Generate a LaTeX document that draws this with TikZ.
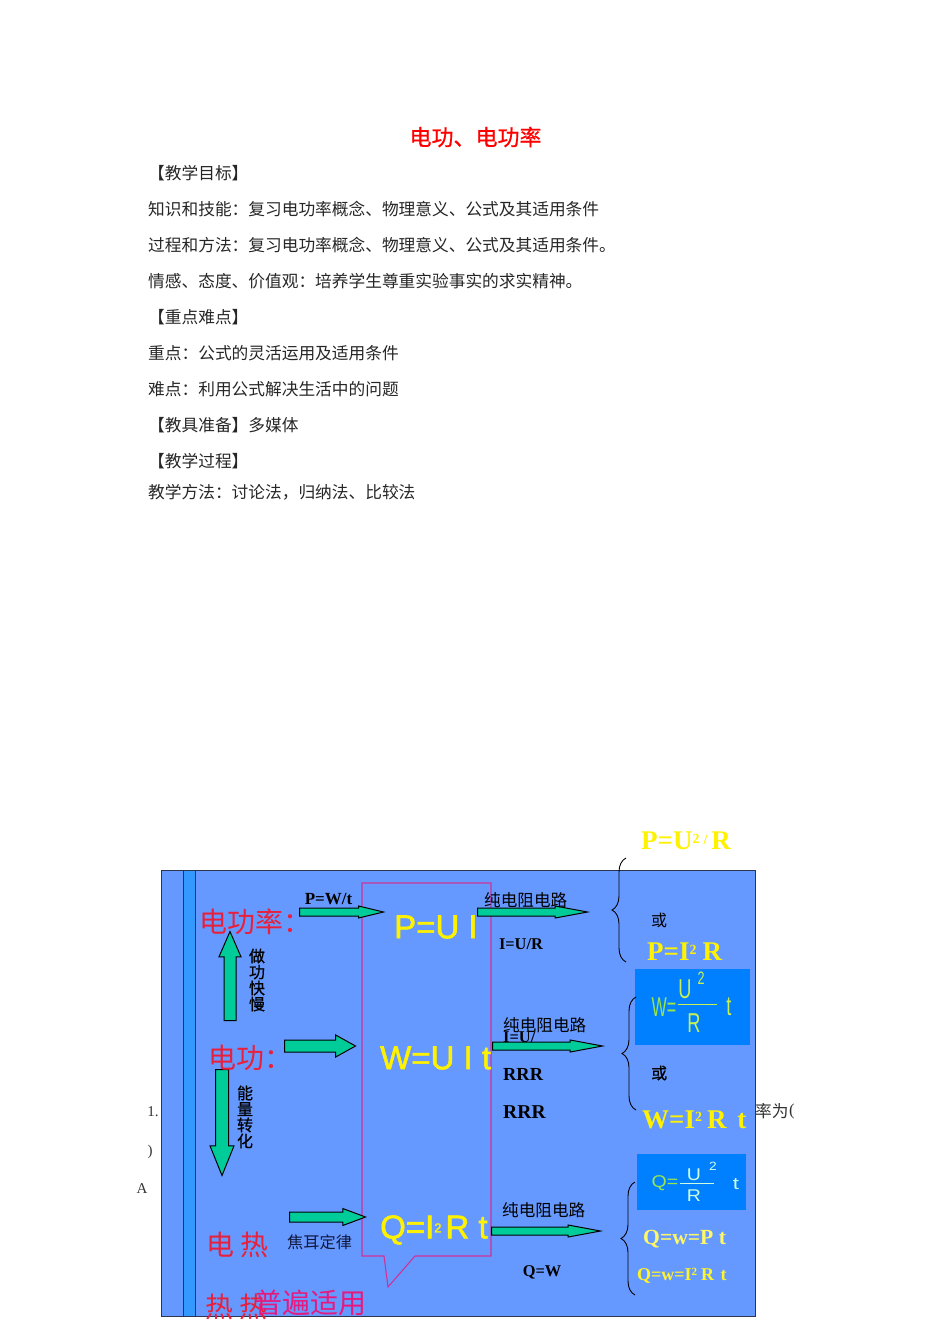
\documentclass[tikz,border=0pt]{standalone}
\usepackage{fontspec}
\setmainfont{Liberation Serif}
\newfontfamily\zhfont{Noto Sans CJK SC}
\newfontfamily\zhmedium[FakeBold=0.7]{Noto Sans CJK SC}
\newfontfamily\arialfont{Liberation Sans}
\newfontfamily\arialheavy[FakeBold=1.6]{Liberation Sans}
\usetikzlibrary{ shapes.arrows, % For the block arrows
                 decorations.pathreplacing, % For the braces
               }
\definecolor{slideblue}{HTML}{6699FF}
\definecolor{stripeblue}{HTML}{3399FF}
\definecolor{boxblue}{HTML}{0080FF}
\definecolor{flowgreen}{HTML}{00CC99}
\definecolor{slidered}{HTML}{E8203C}
\definecolor{slidepink}{HTML}{E6197F}
\definecolor{calloutpink}{HTML}{CC3399}
\definecolor{edgedark}{HTML}{2B3550}
\definecolor{navy}{HTML}{101840}
\definecolor{boxgreen}{HTML}{99E64D}
\definecolor{boxlime}{HTML}{C8F050}
\definecolor{boxpale}{HTML}{CCFFE0}
\newcommand{\fsz}[1]{\fontsize{#1}{#1}\selectfont}
\newcommand{\smalltwo}[2]{{\fsz{#1}\raisebox{#2pt}{2}}}
\tikzstyle{bodyline} = [anchor=west, inner sep=0, font=\zhfont\fsz{16.7}, text=black!85]
\tikzstyle{heading} = [inner sep=0, font=\zhmedium\fsz{22}, text=red]
\tikzstyle{bigred} = [anchor=west, inner sep=0, font=\zhfont\fsz{28}, text=slidered]
\tikzstyle{vertlabel} = [inner sep=0, align=center, font=\zhmedium\fsz{16}, text=black]
\tikzstyle{circuit} = [anchor=west, inner sep=0, font=\zhfont\fsz{16.6}, text=black]
\tikzstyle{law} = [inner sep=0, font=\bfseries\fsz{17}, text=black]
\tikzstyle{bigformula} = [anchor=west, inner sep=0, font=\arialheavy\fsz{33}, text=yellow]
\tikzstyle{result} = [anchor=west, inner sep=0, font=\bfseries\fsz{27}, text=yellow]
\tikzstyle{thinmath} = [inner sep=0, font=\arialfont\fsz{26}]
\tikzstyle{stray} = [inner sep=0, font=\fsz{15}, text=black!80]
\tikzstyle{curly} = [decorate, decoration={brace, amplitude=14}, line width=0.9, black]
\tikzset{flow/.style n args={4}{single arrow, draw=black, fill=flowgreen, line width=1,
    anchor=tail, inner sep={#2*0.5}, minimum height=#1, minimum width=0,
    single arrow head extend={#3}, single arrow tip angle=#4, single arrow head indent=0}}

\begin{document}
\begin{tikzpicture}[x=1pt, y=-1pt]
  \useasboundingbox (0,0) rectangle (950,1344);

  % the text of the page
  \node (title) [heading] at (475.5, 137) {电功、电功率};
  \node (goals) [bodyline] at (148, 173) {【教学目标】};
  \node (skills) [bodyline] at (148, 209) {知识和技能：复习电功率概念、物理意义、公式及其适用条件};
  \node (method) [bodyline] at (148, 245) {过程和方法：复习电功率概念、物理意义、公式及其适用条件。};
  \node (values) [bodyline] at (148, 281) {情感、态度、价值观：培养学生尊重实验事实的求实精神。};
  \node (keys) [bodyline] at (148, 317) {【重点难点】};
  \node (key) [bodyline] at (148, 353) {重点：公式的灵活运用及适用条件};
  \node (hard) [bodyline] at (148, 389) {难点：利用公式解决生活中的问题};
  \node (tools) [bodyline] at (148, 425) {【教具准备】多媒体};
  \node (steps) [bodyline] at (148, 461) {【教学过程】};
  \node (ways) [bodyline] at (148, 492) {教学方法：讨论法，归纳法、比较法};

  % the slide
  \filldraw[fill=slideblue, draw=edgedark, line width=1] (161, 870) rectangle (755, 1316);
  \filldraw[fill=stripeblue, draw=edgedark, line width=1] (183, 870) rectangle (195, 1316);
  \draw[calloutpink, line width=1.1] (362, 883) -- (491, 883) -- (491, 1256) -- (415, 1256)
    -- (388, 1287) -- (384, 1256) -- (362, 1256) -- cycle;
  \fill[boxblue] (635, 969) rectangle (750, 1045);
  \fill[boxblue] (637, 1154) rectangle (746, 1210);

  % the formulas in the callout
  \node (pui) [bigformula] at (394, 927) {P=U I};
  \node (wuit) [bigformula] at (380, 1058) {W=U I t};
  \node (qirt) [bigformula] at (380, 1230) {Q=I\smalltwo{13}{6}\hspace{4pt}R t};

  % the block arrows
  \node (flowp) [flow={84}{7}{2}{27}] at (299, 912) {};
  \node (flowup) [flow={89}{11}{5}{47}, shape border rotate=90] at (230, 1021) {};
  \node (floww) [flow={71}{11}{5}{58}] at (284, 1046) {};
  \node (flowdown) [flow={106}{12}{5.5}{44}, shape border rotate=270] at (222, 1069) {};
  \node (flowq) [flow={76}{9}{3.5}{41}] at (289, 1217) {};
  \node (flowpr) [flow={110}{7}{2}{21}] at (477, 912) {};
  \node (flowwr) [flow={110}{7}{2}{21}] at (492, 1046) {};
  \node (flowqr) [flow={109}{7}{2}{21}] at (491, 1231) {};

  % the braces
  \coordinate (braceptop) at (626, 858);
  \coordinate (bracepend) at (626, 962);
  \coordinate (bracewtop) at (636, 997);
  \coordinate (bracewend) at (636, 1110);
  \coordinate (braceqtop) at (635, 1182);
  \coordinate (braceqend) at (635, 1295);
  \draw[curly] (bracepend) -- (braceptop);
  \draw[curly] (bracewend) -- (bracewtop);
  \draw[curly] (braceqend) -- (braceqtop);

  % the left column
  \node (power) [bigred] at (199, 922) {电功率：};
  \node (work) [bigred] at (208, 1058) {电功：};
  \node (heat) [bigred] at (206, 1245) {电 热};
  \node (heattwo) [bigred] at (205, 1307) {热 热};
  \node (general) [bigred, text=slidepink] at (254, 1303) {普遍适用};
  \node (fast) [vertlabel] at (257, 980) {做\\功\\快\\慢};
  \node (energy) [vertlabel] at (245, 1117) {能\\量\\转\\化};
  \node (pwt) [law] at (328.5, 899) {P=W/t};
  \node (joule) [circuit, text=navy, font=\zhfont\fsz{16.2}] at (287, 1242) {焦耳定律};

  % the middle column
  \node (purep) [circuit] at (484, 900) {纯电阻电路};
  \node (purew) [circuit] at (503, 1025) {纯电阻电路};
  \node (pureq) [circuit] at (502, 1210) {纯电阻电路};
  \node (iur) [law, font=\bfseries\fsz{16.4}] at (521, 944) {I=U/R};
  \node (iu) [law, font=\bfseries\fsz{16.4}, anchor=west] at (503, 1037) {I=U/};
  \node (rrrone) [law, font=\bfseries\fsz{18.4}, anchor=west] at (503, 1074) {RRR};
  \node (rrrtwo) [law, font=\bfseries\fsz{19.6}, anchor=west] at (503, 1112) {RRR};
  \node (qw) [law, font=\bfseries\fsz{16.4}] at (542, 1272) {Q=W};

  % the right column
  \node (pur) [result] at (641, 841) {P=U\smalltwo{14}{6}\hspace{4pt}{\fsz{14}\raisebox{5pt}{/}}\hspace{4pt}R};
  \node (orp) [circuit, font=\zhfont\fsz{16}] at (651, 920) {或};
  \node (pir) [result] at (647, 952) {P=I\smalltwo{14}{6}\hspace{6pt}R};
  \node (orw) [circuit, font=\zhmedium\fsz{16}] at (651, 1073) {或};
  \node (wirt) [result] at (642, 1120) {W=I\smalltwo{14}{7}\hspace{5pt}R\hspace{4pt} t};
  \node (qwpt) [result, font=\bfseries\fsz{21.6}, text=yellow!60!white] at (643, 1239) {Q=w=P t};
  \node (qwirt) [result, font=\bfseries\fsz{18}, text=yellow!85!white] at (637, 1276) {Q=w=I\smalltwo{11}{5}\hspace{4pt}R\hspace{2pt} t};

  % the formula boxes
  \coordinate (barwl) at (678, 1004);
  \coordinate (barwr) at (717, 1004);
  \coordinate (barql) at (680, 1183);
  \coordinate (barqr) at (714, 1183);
  \draw[boxlime, line width=0.9] (barwl) -- (barwr);
  \draw[boxpale, line width=0.9] (barql) -- (barqr);
  \node (weq) [thinmath, text=boxgreen, xscale=0.62, yscale=1.05] at (664, 1007) {W=};
  \node (wu) [thinmath, text=boxlime, xscale=0.7, yscale=1.05] at (685, 989) {U};
  \node (wtwo) [thinmath, text=boxlime, xscale=0.7, font=\arialfont\fsz{18}] at (701, 978) {2};
  \node (wr) [thinmath, text=boxlime, xscale=0.7, yscale=1.05] at (694, 1023) {R};
  \node (wt) [thinmath, text=boxlime, xscale=0.7, yscale=1.05] at (729, 1007) {t};
  \node (qeq) [thinmath, text=boxgreen, font=\arialfont\fsz{17}, xscale=1.15] at (665, 1183) {Q=};
  \node (qu) [thinmath, text=boxpale, font=\arialfont\fsz{17}, xscale=1.15] at (694, 1175) {U};
  \node (qtwo) [thinmath, text=boxpale, font=\arialfont\fsz{12}, xscale=1.15] at (713, 1166) {2};
  \node (qr) [thinmath, text=boxpale, font=\arialfont\fsz{17}, xscale=1.15] at (694, 1196) {R};
  \node (qt) [thinmath, text=boxpale, font=\arialfont\fsz{17}, xscale=1.3] at (736, 1184) {t};

  % text left over beside the slide
  \node (one) [stray] at (153, 1112) {1.};
  \node (close) [stray] at (150, 1152) {)};
  \node (choice) [stray] at (142, 1189) {A};
  \node (rate) [stray, anchor=west, font=\zhfont\fsz{16.7}] at (755, 1111) {率为};
  \node (open) [stray, anchor=west, font=\fsz{16.7}] at (789, 1111) {(};
\end{tikzpicture}
\end{document}
